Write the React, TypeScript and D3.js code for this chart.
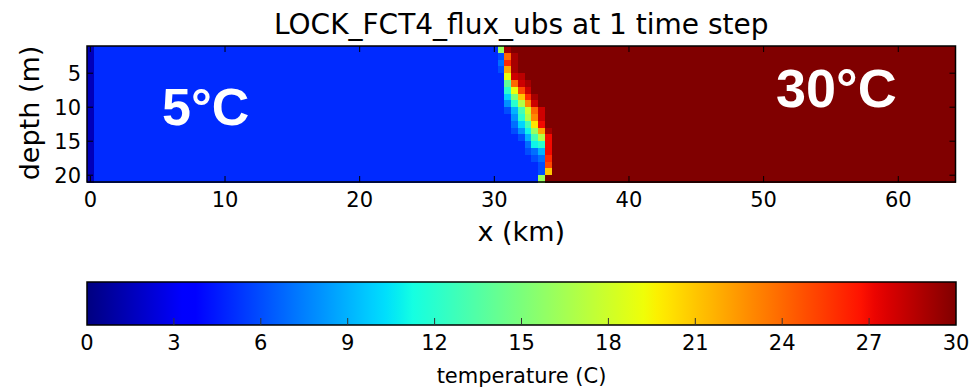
import React from "react";
import * as d3 from "d3";

// temperatures (deg C)
const wallTemp = 1.5; // the x = 0 column
const coldTemp = 5;
const warmTemp = 30;
const frontX = [30.5, 31, 31.5, 32, 32.5, 33, 33.5, 34, 34.5];
// one row per metre of depth (1-2 m down to 20-21 m), values at frontX
const frontRows = [
  [16, 29, 30, 30, 30, 30, 30, 30, 30],
  [6, 24, 29, 30, 30, 30, 30, 30, 30],
  [7, 26, 29, 30, 30, 30, 30, 30, 30],
  [6, 22, 29, 30, 30, 30, 30, 30, 30],
  [5, 19, 28, 28.5, 30, 30, 30, 30, 30],
  [5, 14, 24, 28, 29, 30, 30, 30, 30],
  [5, 12, 19, 25, 28, 30, 30, 30, 30],
  [5, 10, 15, 21, 26, 29, 30, 30, 30],
  [5, 8, 12, 17, 23, 28, 30, 30, 30],
  [5, 6, 9, 13, 18, 24, 28, 30, 30],
  [5, 5, 8, 12, 17, 23, 28, 30, 30],
  [5, 5, 7, 10, 13, 20, 27, 30, 30],
  [5, 5, 6, 8, 11, 16, 22, 29, 30],
  [5, 5, 5, 6, 9, 13, 17, 27, 30],
  [5, 5, 5, 5, 7, 11, 12, 27, 30],
  [5, 5, 5, 5, 6, 7, 9, 27, 30],
  [5, 5, 5, 5, 5, 6, 7, 26, 30],
  [5, 5, 5, 5, 5, 5, 6, 25, 30],
  [5, 5, 5, 5, 5, 5, 6, 21, 30],
  [5, 5, 5, 5, 5, 5, 16, 30, 30],
];
const xTicks = [0, 10, 20, 30, 40, 50, 60];
const depthTicks = [5, 10, 15, 20];
const cbarTicks = [0, 3, 6, 9, 12, 15, 18, 21, 24, 27, 30];

// matplotlib "jet"
const jetR: [number, number][] = [[0, 0], [0.35, 0], [0.66, 1], [0.89, 1], [1, 0.5]];
const jetG: [number, number][] = [[0, 0], [0.125, 0], [0.375, 1], [0.64, 1], [0.91, 0], [1, 0]];
const jetB: [number, number][] = [[0, 0.5], [0.11, 1], [0.34, 1], [0.65, 0], [1, 0]];
function seg(s: [number, number][], t: number) {
  for (let i = 1; i < s.length; i++) {
    if (t <= s[i][0]) {
      const [x0, y0] = s[i - 1];
      const [x1, y1] = s[i];
      return y0 + ((t - x0) / (x1 - x0)) * (y1 - y0);
    }
  }
  return s[s.length - 1][1];
}
function jet(t: number) {
  t = Math.max(0, Math.min(1, t));
  const c = (v: number) => Math.round(v * 255);
  return `rgb(${c(seg(jetR, t))},${c(seg(jetG, t))},${c(seg(jetB, t))})`;
}

const W = 973;
const H = 388;
const plot = { left: 87, right: 955.5, top: 46, bottom: 182 };
const cbar = { left: 87, right: 956, top: 282, bottom: 325 };
const font = "'DejaVu Sans', sans-serif";
const bold = "'Liberation Sans', Arial, sans-serif";

export default function App() {
  const x = d3.scaleLinear().domain([-0.25, 64.25]).range([plot.left, plot.right]);
  const y = d3.scaleLinear().domain([1, 21]).range([plot.top, plot.bottom]);
  const tScale = d3.scaleLinear().domain([0, 30]).range([0, 1]);
  const cx = d3.scaleLinear().domain([0, 30]).range([cbar.left, cbar.right]);

  const columns = d3.range(0, 64.5, 0.5);
  const cells: { xc: number; d: number; v: number }[] = [];
  frontRows.forEach((row, j) => {
    columns.forEach((xc) => {
      let v: number;
      if (xc === 0) v = wallTemp;
      else if (xc < frontX[0]) v = coldTemp;
      else if (xc > frontX[frontX.length - 1]) v = warmTemp;
      else v = row[frontX.indexOf(xc)];
      cells.push({ xc, d: j + 1, v });
    });
  });

  const stops = d3.range(0, 1.0001, 1 / 64);
  const tl = 6;

  return (
    <svg width={W} height={H} style={{ position: "absolute", left: 0, top: 0, background: "#fff" }}>
      <defs>
        <linearGradient id="jet" x1="0" x2="1" y1="0" y2="0">
          {stops.map((s, i) => (
            <stop key={i} offset={s} stopColor={jet(s)} />
          ))}
        </linearGradient>
      </defs>
      <text x={(plot.left + plot.right) / 2} y={34} textAnchor="middle" fontFamily={font} fontSize={28}>
        LOCK_FCT4_flux_ubs at 1 time step
      </text>
      <g shapeRendering="crispEdges">
        {cells.map((c, i) => (
          <rect
            key={i}
            x={x(c.xc - 0.25)}
            y={y(c.d)}
            width={x(c.xc + 0.25) - x(c.xc - 0.25) + 0.5}
            height={y(c.d + 1) - y(c.d) + 0.5}
            fill={jet(tScale(c.v))}
          />
        ))}
      </g>
      <text x={162} y={125} fontFamily={bold} fontWeight="bold" fontSize={52} fill="#fff">
        5°C
      </text>
      <text x={776} y={107} fontFamily={bold} fontWeight="bold" fontSize={54} fill="#fff">
        30°C
      </text>
      <rect x={plot.left} y={plot.top} width={plot.right - plot.left} height={plot.bottom - plot.top} fill="none" stroke="#000" strokeWidth={1.5} />
      {xTicks.map((t) => (
        <g key={t}>
          <line x1={x(t)} x2={x(t)} y1={plot.bottom} y2={plot.bottom - tl} stroke="#000" />
          <line x1={x(t)} x2={x(t)} y1={plot.top} y2={plot.top + tl} stroke="#000" />
          <text x={x(t)} y={207} textAnchor="middle" fontFamily={font} fontSize={21}>
            {t}
          </text>
        </g>
      ))}
      {depthTicks.map((t) => (
        <g key={t}>
          <line x1={plot.left} x2={plot.left + tl} y1={y(t)} y2={y(t)} stroke="#000" />
          <line x1={plot.right} x2={plot.right - tl} y1={y(t)} y2={y(t)} stroke="#000" />
          <text x={81} y={y(t)} dy="0.36em" textAnchor="end" fontFamily={font} fontSize={21}>
            {t}
          </text>
        </g>
      ))}
      <text x={(plot.left + plot.right) / 2} y={241} textAnchor="middle" fontFamily={font} fontSize={27}>
        x (km)
      </text>
      <text
        transform={`translate(39,${(plot.top + plot.bottom) / 2 - 1}) rotate(-90)`}
        textAnchor="middle"
        fontFamily={font}
        fontSize={27}
      >
        depth (m)
      </text>
      <rect x={cbar.left} y={cbar.top} width={cbar.right - cbar.left} height={cbar.bottom - cbar.top} fill="url(#jet)" stroke="#000" strokeWidth={1.5} />
      {cbarTicks.map((t) => (
        <g key={t}>
          {t > 0 && t < 30 && <line x1={cx(t)} x2={cx(t)} y1={cbar.bottom} y2={cbar.bottom - 7} stroke="#333" />}
          <text x={cx(t)} y={350} textAnchor="middle" fontFamily={font} fontSize={21}>
            {t}
          </text>
        </g>
      ))}
      <text x={(cbar.left + cbar.right) / 2} y={383} textAnchor="middle" fontFamily={font} fontSize={21}>
        temperature (C)
      </text>
    </svg>
  );
}
